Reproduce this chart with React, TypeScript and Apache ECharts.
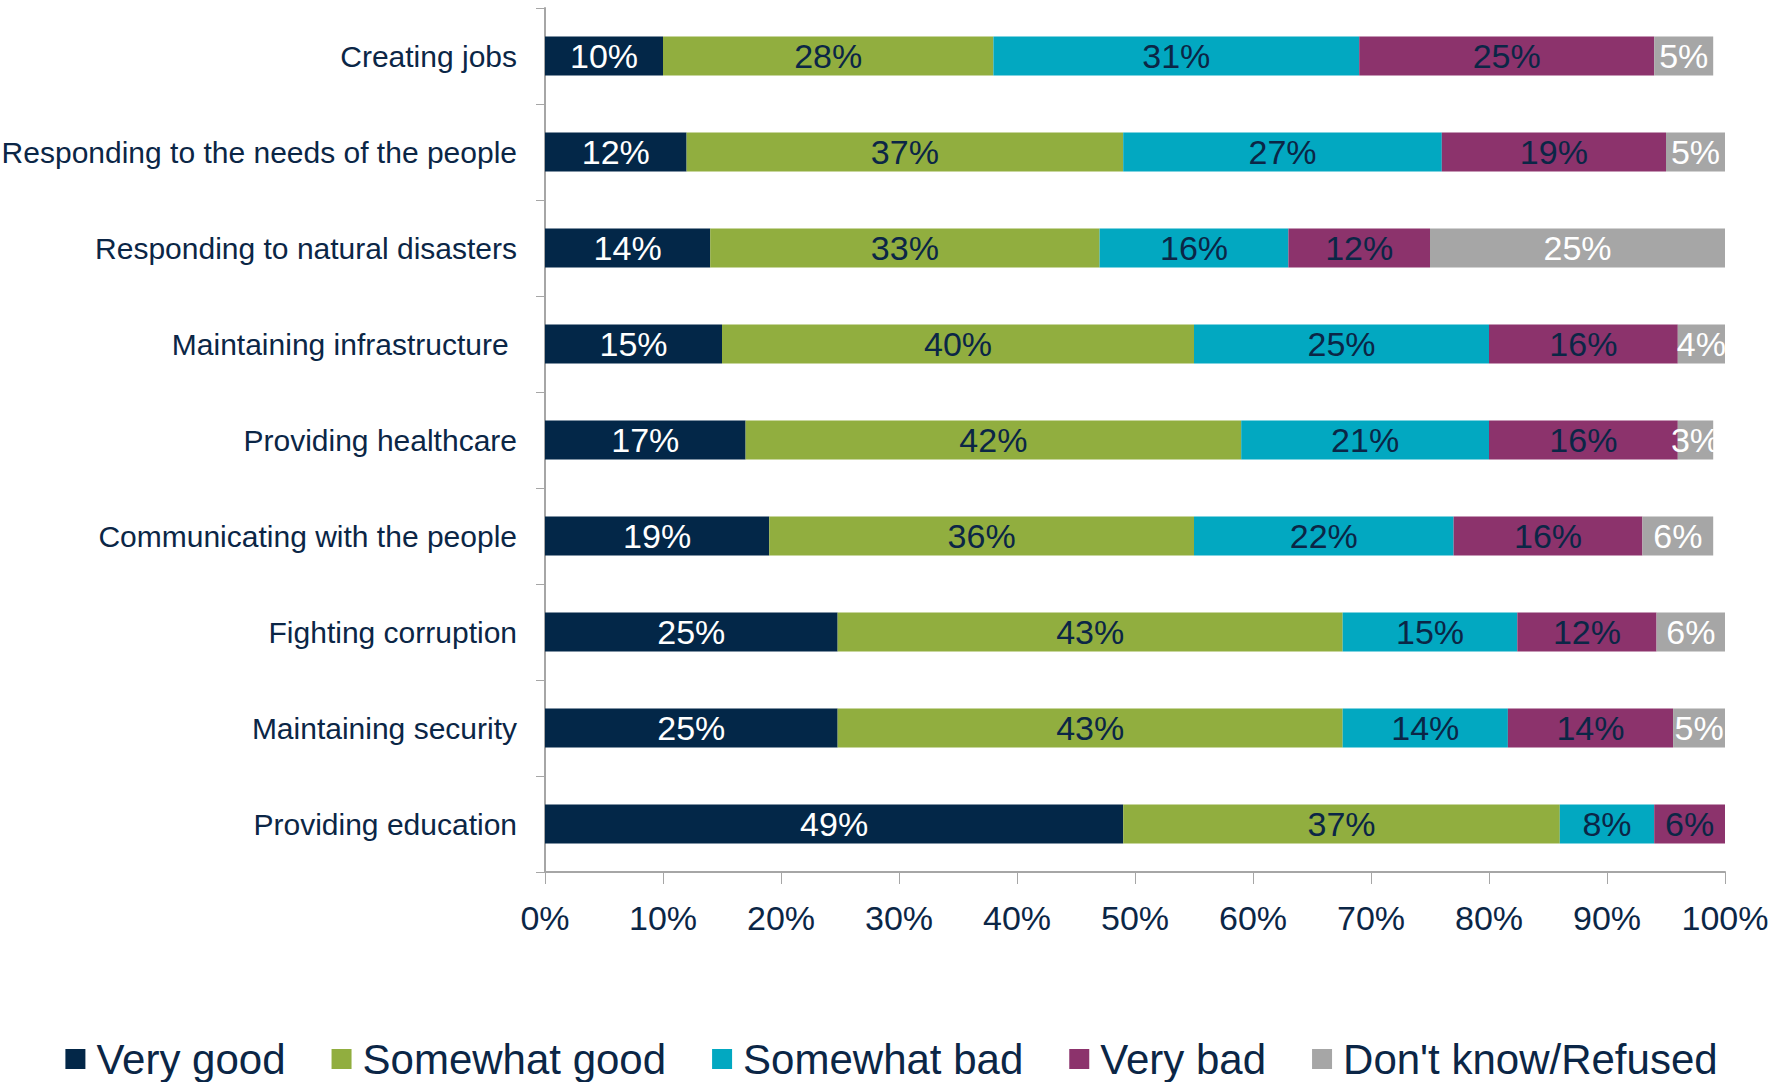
import React, { useEffect, useRef } from "react";
import * as echarts from "echarts";

const categories = [
  "Creating jobs",
  "Responding to the needs of the people",
  "Responding to natural disasters",
  "Maintaining infrastructure ",
  "Providing healthcare",
  "Communicating with the people",
  "Fighting corruption",
  "Maintaining security",
  "Providing education",
];

const seriesNames = ["Very good", "Somewhat good", "Somewhat bad", "Very bad", "Don't know/Refused"];

const veryGood = [10, 12, 14, 15, 17, 19, 24.8, 24.8, 49];
const somewhatGood = [28, 37, 33, 40, 42, 36, 42.8, 42.8, 37];
const somewhatBad = [31, 27, 16, 25, 21, 22, 14.8, 14, 8];
const veryBad = [25, 19, 12, 16, 16, 16, 11.8, 14, 6];
const dontKnow = [5, 5, 25, 4, 3, 6, 5.8, 4.5, 0];

const xTicks = [0, 10, 20, 30, 40, 50, 60, 70, 80, 90, 100];

const colors = ["#032748", "#91AE3F", "#02A8C1", "#8C336C", "#A6A6A6"];
const labelColors = ["#FFFFFF", "#0B2646", "#0B2646", "#0B2646", "#FFFFFF"];
const TEXT = "#0B2646";
const AXIS = "#A6A6A6";
const FONT = "'Liberation Sans', Arial, sans-serif";

export default function App() {
  const ref = useRef<HTMLDivElement>(null);
  useEffect(() => {
    if (!ref.current) return;
    const chart = echarts.init(ref.current, undefined, { renderer: "svg" });
    const allData = [veryGood, somewhatGood, somewhatBad, veryBad, dontKnow];
    chart.setOption({
      animation: false,
      backgroundColor: "#FFFFFF",
      textStyle: { fontFamily: FONT },
      grid: {
        left: 545,
        right: 58,
        top: 8,
        bottom: 210,
        containLabel: false,
        outerBoundsMode: "none",
      },
      legend: {
        data: seriesNames,
        left: "center",
        top: 1038,
        itemWidth: 20,
        itemHeight: 20,
        itemGap: 46,
        icon: "rect",
        padding: 0,
        textStyle: { fontSize: 42, color: TEXT, fontFamily: FONT, padding: [0, 0, 0, 6] },
      },
      xAxis: {
        type: "value",
        min: xTicks[0],
        max: xTicks[xTicks.length - 1],
        interval: 10,
        axisLine: { show: true, lineStyle: { color: AXIS, width: 2 } },
        axisTick: { show: true, length: 12, lineStyle: { color: AXIS, width: 1 } },
        splitLine: { show: false },
        axisLabel: {
          formatter: "{value}%",
          fontSize: 34,
          color: TEXT,
          fontFamily: FONT,
          margin: 29,
        },
      },
      yAxis: {
        type: "category",
        inverse: true,
        data: categories,
        axisLine: { show: true, lineStyle: { color: AXIS, width: 2 } },
        axisTick: { show: true, length: 9, inside: false, lineStyle: { color: AXIS, width: 1 } },
        axisLabel: { fontSize: 30, color: TEXT, fontFamily: FONT, margin: 28 },
      },
      series: seriesNames.map((name, i) => ({
        name,
        type: "bar",
        stack: "total",
        barWidth: 39,
        data: allData[i],
        itemStyle: { color: colors[i] },
        label: {
          show: true,
          position: "inside",
          color: labelColors[i],
          fontSize: 34,
          fontFamily: FONT,
          formatter: (p: any) => (p.value >= 0.5 ? Math.round(p.value) + "%" : ""),
        },
      })),
    });
    return () => chart.dispose();
  }, []);
  return (
    <div
      ref={ref}
      style={{ position: "fixed", left: 0, top: 0, width: 1783, height: 1082 }}
    />
  );
}
